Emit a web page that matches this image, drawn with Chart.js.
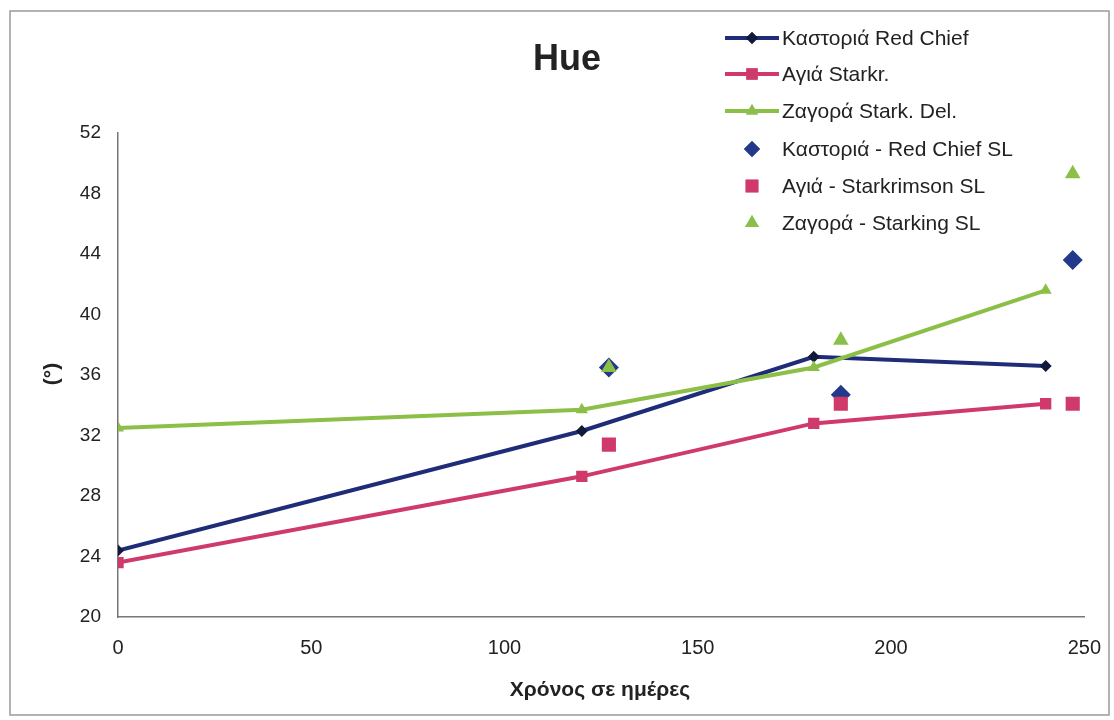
<!DOCTYPE html>
<html>
<head>
<meta charset="utf-8">
<script src="https://cdn.jsdelivr.net/npm/chart.js@4/dist/chart.umd.min.js"></script>
<style>
  html, body { margin: 0; padding: 0; background: #fff; }
  #wrap { width: 1114px; height: 720px; position: relative; }
</style>
</head>
<body>
<div id="wrap"><canvas id="c" width="1114" height="720"></canvas></div>
<script>
// Sampling days
const days = [0, 120, 180, 240];
const slDays = [127, 187, 247];

// Hue (°) of the three orchards over storage time
const kastoriaRedChief = [24.4, 32.3, 37.2, 36.6];
const agiaStarkr = [23.6, 29.3, 32.8, 34.1];
const zagoraStarkDel = [32.5, 33.7, 36.5, 41.6];

// Shelf-life measurements
const kastoriaSL = [36.5, 34.7, 43.6];
const agiaSL = [31.4, 34.1, 34.1];
const zagoraSL = [36.5, 38.3, 49.3];

const seriesLabels = [
  'Καστοριά Red Chief',
  'Αγιά Starkr.',
  'Ζαγορά Stark. Del.',
  'Καστοριά - Red Chief SL',
  'Αγιά - Starkrimson SL',
  'Ζαγορά - Starking SL'
];

const yTicks = [20, 24, 28, 32, 36, 40, 44, 48, 52];
const xTicks = [0, 50, 100, 150, 200, 250];

const NAVY = '#1f2c78';
const PINK = '#cf3a6a';
const GREEN = '#8cbf48';

const pts = (xs, ys) => xs.map((x, i) => ({ x, y: ys[i] }));

const datasets = [
  { label: seriesLabels[0], data: pts(days, kastoriaRedChief), borderColor: NAVY, backgroundColor: '#111a3a',
    pointStyle: 'rectRot', pointRadius: 6, borderWidth: 4, showLine: true, order: 6, legendLine: true, legendR: 6, pointBorderWidth: 0 },
  { label: seriesLabels[1], data: pts(days, agiaStarkr), borderColor: PINK, backgroundColor: PINK,
    pointStyle: 'rect', pointRadius: 8, borderWidth: 4, showLine: true, order: 5, legendLine: true, legendR: 8, pointBorderWidth: 0 },
  { label: seriesLabels[2], data: pts(days, zagoraStarkDel), borderColor: GREEN, backgroundColor: GREEN,
    pointStyle: 'triangle', pointRadius: 7, borderWidth: 4, showLine: true, order: 4, legendLine: true, legendR: 7, pointBorderWidth: 0 },
  { label: seriesLabels[3], data: pts(slDays, kastoriaSL), borderColor: NAVY, backgroundColor: '#233a8b',
    pointStyle: 'rectRot', pointRadius: 10, showLine: false, order: 3, legendR: 8, pointBorderWidth: 0 },
  { label: seriesLabels[4], data: pts(slDays, agiaSL), borderColor: PINK, backgroundColor: PINK,
    pointStyle: 'rect', pointRadius: 10, showLine: false, order: 2, legendR: 9, pointBorderWidth: 0 },
  { label: seriesLabels[5], data: pts(slDays, zagoraSL), borderColor: GREEN, backgroundColor: GREEN,
    pointStyle: 'triangle', pointRadius: 9, showLine: false, order: 1, legendR: 8, pointBorderWidth: 0 }
];

// Frame, title, axis titles and the legend overlay
const decorations = {
  id: 'decorations',
  afterDraw(chart) {
    const ctx = chart.ctx;
    ctx.save();
    ctx.strokeStyle = '#9a9a9a';
    ctx.lineWidth = 1.5;
    ctx.strokeRect(10, 11, 1099, 704);

    ctx.fillStyle = '#222';
    ctx.textAlign = 'center';
    ctx.textBaseline = 'alphabetic';
    ctx.font = 'bold 36px "Liberation Sans", Arial, sans-serif';
    ctx.fillText('Hue', 567, 70);

    ctx.font = 'bold 21px "Liberation Sans", Arial, sans-serif';
    ctx.fillText('Χρόνος σε ημέρες', 600, 696);

    ctx.save();
    ctx.translate(52, 374);
    ctx.rotate(-Math.PI / 2);
    ctx.font = 'bold 21px "Liberation Sans", Arial, sans-serif';
    ctx.textBaseline = 'middle';
    ctx.fillText('(°)', 0, 0);
    ctx.restore();

    // legend
    ctx.textAlign = 'left';
    ctx.textBaseline = 'middle';
    ctx.font = '21px "Liberation Sans", Arial, sans-serif';
    const rowY = [38, 74, 111, 149, 186, 223];
    chart.data.datasets.forEach((ds, i) => {
      const y = rowY[i];
      const mx = 752;
      if (ds.legendLine) {
        ctx.strokeStyle = ds.borderColor;
        ctx.lineWidth = 4;
        ctx.beginPath();
        ctx.moveTo(725, y);
        ctx.lineTo(779, y);
        ctx.stroke();
      }
      ctx.fillStyle = ds.backgroundColor;
      Chart.helpers.drawPoint(ctx, { pointStyle: ds.pointStyle, radius: ds.legendR, borderWidth: 0, rotation: 0 }, mx, y);
      ctx.fill();
      ctx.fillStyle = '#222';
      ctx.fillText(ds.label, 782, y + 1);
    });
    ctx.restore();
  }
};

new Chart(document.getElementById('c'), {
  type: 'scatter',
  data: { datasets },
  options: {
    responsive: false,
    animation: false,
    layout: { padding: { left: 0, top: 133, right: 29, bottom: 0 } },
    plugins: { legend: { display: false }, tooltip: { enabled: false } },
    elements: { line: { tension: 0 } },
    scales: {
      x: {
        type: 'linear', min: 0, max: 250,
        afterBuildTicks: s => { s.ticks = xTicks.map(v => ({ value: v })); },
        afterFit: s => { s.height = 103; },
        grid: { display: false, drawOnChartArea: false, tickLength: 6, color: '#777' },
        border: { display: true, color: '#777', width: 1.5 },
        ticks: { color: '#222', font: { family: '"Liberation Sans", Arial, sans-serif', size: 20 }, padding: 13, maxRotation: 0 }
      },
      y: {
        type: 'linear', min: 20, max: 52,
        afterBuildTicks: s => { s.ticks = yTicks.map(v => ({ value: v })); },
        afterFit: s => { s.width = 118; },
        grid: { display: false, drawOnChartArea: false, tickLength: 7, color: '#777' },
        border: { display: true, color: '#777', width: 1.5 },
        ticks: { color: '#222', font: { family: '"Liberation Sans", Arial, sans-serif', size: 19 }, padding: 10 }
      }
    }
  },
  plugins: [decorations]
});
</script>
</body>
</html>
